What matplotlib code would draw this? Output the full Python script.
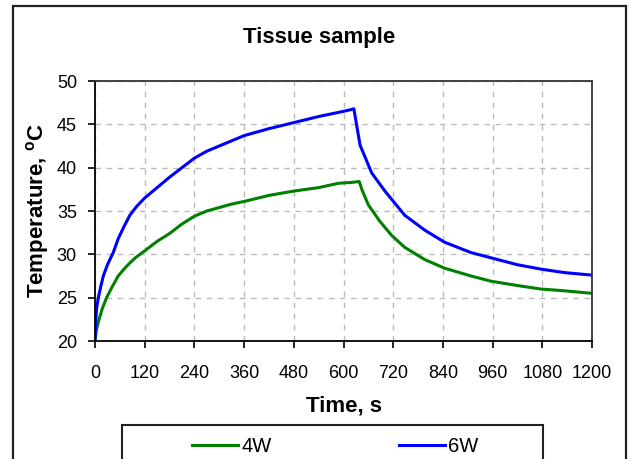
import matplotlib.pyplot as plt
from matplotlib.patches import Rectangle

plt.rcParams['font.family'] = ['Liberation Sans', 'DejaVu Sans']

# time (s) and temperature (C)
t_4w = [0, 3, 8, 18, 28, 42, 56, 70, 84, 100, 120, 150, 180, 210, 240, 270, 300,
        330, 360, 420, 480, 540, 588, 620, 638, 645, 660, 688, 716, 748, 796,
        844, 908, 956, 1020, 1076, 1132, 1200]
temp_4w = [20, 21.2, 22.2, 23.8, 25, 26.3, 27.5, 28.3, 29, 29.7, 30.4, 31.5, 32.4,
           33.5, 34.4, 35.0, 35.4, 35.8, 36.1, 36.8, 37.3, 37.7, 38.2, 38.3, 38.4,
           37.4, 35.7, 33.8, 32.2, 30.8, 29.4, 28.4, 27.5, 26.9, 26.4, 26.0, 25.8,
           25.5]

t_6w = [0, 2, 4, 8, 14, 20, 30, 44, 56, 70, 84, 100, 120, 150, 180, 210, 240,
        270, 300, 330, 360, 420, 480, 540, 600, 618, 625, 640, 668, 700, 748,
        796, 844, 908, 956, 1020, 1076, 1132, 1200]
temp_6w = [20, 22.5, 23.8, 25, 26.3, 27.5, 28.8, 30.2, 31.8, 33.2, 34.5, 35.5,
           36.5, 37.7, 38.9, 40.0, 41.1, 41.9, 42.5, 43.1, 43.7, 44.5, 45.2, 45.9,
           46.5, 46.7, 46.8, 42.6, 39.4, 37.3, 34.5, 32.8, 31.4, 30.2, 29.6, 28.8,
           28.3, 27.9, 27.6]

xticks = list(range(0, 1201, 120))
yticks = [20, 25, 30, 35, 40, 45, 50]

W, H = 631, 459
fig = plt.figure(figsize=(W / 100, H / 100), dpi=100)
ax = fig.add_axes([95 / W, 1 - 341 / H, 497 / W, 260 / H])

# outer chart frame
fig.patches.append(Rectangle((13 / W, -0.05), 613 / W, 1.05 - 6 / H,
                             transform=fig.transFigure, fill=False,
                             edgecolor='#222222', linewidth=1.6))
# legend frame (runs off the bottom like the original)
fig.patches.append(Rectangle((122 / W, -0.05), 421 / W, 0.05 + 1 - 425 / H,
                             transform=fig.transFigure, fill=False,
                             edgecolor='#222222', linewidth=1.5))

ax.plot(t_4w, temp_4w, color='#008000', linewidth=2.2, label='4W')
ax.plot(t_6w, temp_6w, color='#0000ff', linewidth=2.2, label='6W')

ax.set_xlim(0, 1200)
ax.set_ylim(20, 50)
ax.set_xticks(xticks)
ax.set_yticks(yticks)
ax.tick_params(direction='out', length=5, width=1.2, labelsize=13)
ax.tick_params(axis='x', pad=12)
ax.tick_params(axis='y', pad=8)
ax.grid(True, color='#bbbbbb', linestyle=(0, (4, 4)), linewidth=1)
for s in ax.spines.values():
    s.set_linewidth(1.3)
    s.set_color('#333333')
ax.spines['left'].set_color('black')
ax.spines['bottom'].set_color('black')

fig.text(319 / W, 1 - 37 / H, 'Tissue sample', fontsize=16, fontweight='bold',
         ha='center', va='center')
ax.set_xlabel('Time, s', fontsize=16, fontweight='bold', labelpad=10)
ax.set_ylabel('Temperature, $^{\\mathregular{o}}$C', fontsize=16, fontweight='bold',
              labelpad=4)

leg = fig.legend(loc='upper left', bbox_to_anchor=(176 / W, 1 - 421 / H),
                 ncol=2, frameon=False, fontsize=14.5,
                 handlelength=2.3, handletextpad=0.15, columnspacing=6.3,
                 borderpad=0.3)

fig.savefig('out.png', dpi=100)
